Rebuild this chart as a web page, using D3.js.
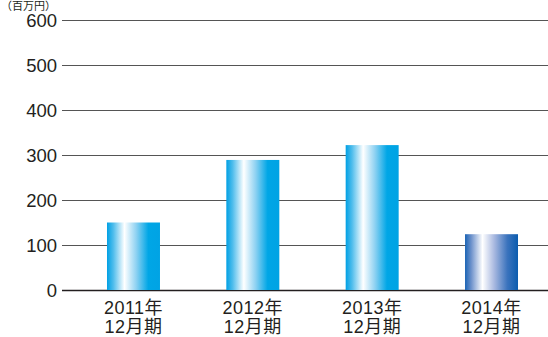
<!DOCTYPE html>
<html>
<head>
<meta charset="utf-8">
<script src="https://cdn.jsdelivr.net/npm/d3@7"></script>
<style>
  body { margin: 0; background: #fff; }
  text { font-family: "Liberation Sans", "Noto Sans CJK JP", sans-serif; fill: #231f20; }
</style>
</head>
<body>
<script>
var w = 548;
var h = 337;
var years = ['2011年', '2012年', '2013年', '2014年'];
var periods = ['12月期', '12月期', '12月期', '12月期'];
var values = [150, 289, 322, 124];
var ticks = [0, 100, 200, 300, 400, 500, 600];

var svg = d3.select('body').append('svg').attr('width', w).attr('height', h);

var x = d3.scaleBand().domain(years).range([62, 563]).paddingInner(0.556).paddingOuter(0.377);
var y = d3.scaleLinear().domain([0, 600]).range([290, 20]);

// gradients
var defs = svg.append('defs');
function grad(id, stops) {
  var g = defs.append('linearGradient').attr('id', id)
    .attr('x1', '0%').attr('x2', '100%').attr('y1', '0%').attr('y2', '0%');
  stops.forEach(function(s) {
    g.append('stop').attr('offset', s[0]).attr('stop-color', s[1]);
  });
}
grad('g1', [['0%', '#00a0e4'], ['12%', '#4fbdec'], ['33%', '#ffffff'], ['55%', '#8fd2f2'], ['78%', '#00a6e6'], ['100%', '#00a3e4']]);
grad('g2', [['0%', '#1a63b4'], ['12%', '#6f93cc'], ['33%', '#ffffff'], ['55%', '#a9b9e0'], ['80%', '#3a73bd'], ['100%', '#0b5cae']]);

// grid lines
svg.selectAll('line.grid')
  .data(ticks)
  .enter()
  .append('line')
  .attr('class', 'grid')
  .attr('x1', 62)
  .attr('x2', w)
  .attr('y1', function(d) { return y(d) + 0.5; })
  .attr('y2', function(d) { return y(d) + 0.5; })
  .attr('stroke', function(d) { return d === 0 ? '#231f20' : '#555'; })
  .attr('stroke-width', function(d) { return d === 0 ? 1.5 : 1; });

svg.selectAll('text.tick')
  .data(ticks)
  .enter()
  .append('text')
  .attr('class', 'tick')
  .attr('x', 57)
  .attr('y', function(d) { return y(d) + 7; })
  .attr('text-anchor', 'end')
  .attr('font-size', 18.5)
  .text(function(d) { return d; });

// unit label
svg.append('text')
  .attr('x', 1)
  .attr('y', 10)
  .attr('font-size', 11)
  .text('（百万円）');

// bars
svg.selectAll('rect')
  .data(values)
  .enter()
  .append('rect')
  .attr('x', function(d, i) { return x(years[i]); })
  .attr('y', function(d) { return y(d); })
  .attr('width', x.bandwidth())
  .attr('height', function(d) { return y(0) - y(d); })
  .attr('fill', function(d, i) { return i === 3 ? 'url(#g2)' : 'url(#g1)'; });

// x labels
svg.selectAll('text.year')
  .data(years)
  .enter()
  .append('text')
  .attr('class', 'year')
  .attr('x', function(d) { return x(d) + x.bandwidth() / 2; })
  .attr('y', 314)
  .attr('text-anchor', 'middle')
  .attr('font-size', 18)
  .attr('letter-spacing', 0.5)
  .text(function(d) { return d; });

svg.selectAll('text.period')
  .data(periods)
  .enter()
  .append('text')
  .attr('class', 'period')
  .attr('x', function(d, i) { return x(years[i]) + x.bandwidth() / 2; })
  .attr('y', 333)
  .attr('text-anchor', 'middle')
  .attr('font-size', 18)
  .attr('letter-spacing', 0.5)
  .text(function(d) { return d; });
</script>
</body>
</html>
